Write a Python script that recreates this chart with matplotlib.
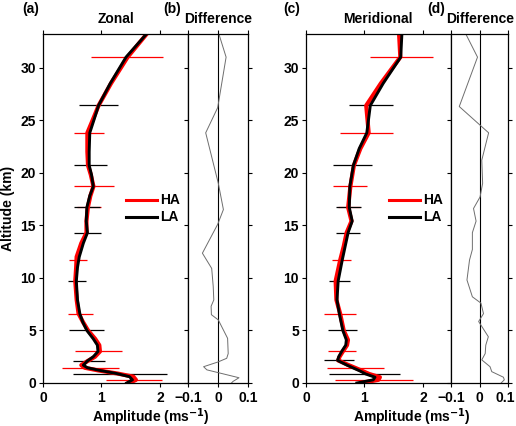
import numpy as np
import matplotlib.pyplot as plt
from matplotlib.transforms import ScaledTranslation

plt.rcParams['font.family'] = ['Liberation Sans', 'DejaVu Sans']
plt.rcParams['font.weight'] = 'bold'
plt.rcParams['font.size'] = 10
plt.rcParams['axes.linewidth'] = 0.9

# zonal amplitude profiles (km, m/s)
zon_alt = [0, 0.3, 0.6, 0.9, 1.2, 1.45, 1.7, 2.1, 2.5, 3.0, 3.6, 4.2, 5.0, 5.8, 6.6, 7.9,
           9.7, 11.0, 12.0, 13.3, 14.3, 15.4, 16.7, 17.8, 18.7, 19.8, 20.7, 22.0, 23.8,
           25.0, 26.4, 28.5, 31.0, 33.2]
zon_la = [1.43, 1.53, 1.48, 1.26, 0.97, 0.76, 0.69, 0.76, 0.86, 0.94, 0.93, 0.86, 0.75,
          0.68, 0.63, 0.59, 0.57, 0.59, 0.62, 0.69, 0.76, 0.74, 0.75, 0.80, 0.86, 0.83,
          0.79, 0.79, 0.80, 0.87, 0.95, 1.15, 1.42, 1.77]
zon_ha = [1.475, 1.59, 1.545, 1.275, 0.94, 0.715, 0.655, 0.766, 0.89, 0.974, 0.963, 0.892,
          0.77, 0.684, 0.608, 0.576, 0.552, 0.567, 0.575, 0.655, 0.744, 0.743, 0.767, 0.81,
          0.863, 0.818, 0.77, 0.759, 0.759, 0.849, 0.951, 1.163, 1.447, 1.773]

# zonal error bars
zon_ha_bar_alt = [31.0, 23.8, 18.7, 16.7, 11.7, 6.6, 3.0, 1.4, 0.28]
zon_ha_bar_mid = [1.44, 0.79, 0.875, 0.79, 0.60, 0.64, 0.95, 0.815, 1.555]
zon_ha_bar_err = [0.62, 0.26, 0.345, 0.21, 0.16, 0.22, 0.40, 0.485, 0.475]
zon_la_bar_alt = [26.4, 20.7, 16.7, 14.3, 9.7, 5.0, 2.1, 0.86]
zon_la_bar_mid = [0.95, 0.81, 0.75, 0.76, 0.58, 0.75, 0.785, 1.32]
zon_la_bar_err = [0.34, 0.28, 0.22, 0.23, 0.15, 0.30, 0.275, 0.80]

# zonal difference HA - LA
zon_diff_alt = [0.0, 0.15, 0.5, 0.85, 1.25, 1.55, 2.0, 2.35, 2.8, 4.25, 6.0, 6.5, 7.3, 7.9,
                9.2, 10.9, 12.35, 15.1, 16.5, 19.0, 23.8, 26.2, 31.0, 33.2]
zon_diff = [0.045, 0.05, 0.07, 0.02, -0.037, -0.048, 0.0, 0.029, 0.034, 0.032, 0.001,
            -0.022, -0.023, -0.014, -0.016, -0.021, -0.052, -0.001, 0.018, 0.001, -0.041,
            -0.001, 0.027, 0.003]

# meridional amplitude profiles
mer_alt = [0, 0.3, 0.55, 0.86, 1.15, 1.4, 1.7, 2.15, 2.5, 3.0, 3.6, 4.1, 5.0, 6.6, 7.9, 9.7,
           11.7, 13.0, 14.3, 15.4, 16.7, 18.7, 20.7, 22.3, 23.8, 26.4, 28.5, 31.0, 33.2]
mer_la = [0.87, 1.15, 1.18, 1.02, 0.92, 0.82, 0.70, 0.54, 0.56, 0.61, 0.68, 0.69, 0.63,
          0.57, 0.53, 0.55, 0.62, 0.67, 0.72, 0.79, 0.74, 0.75, 0.81, 0.91, 1.04, 1.10,
          1.32, 1.62, 1.64]
mer_ha = [0.946, 1.237, 1.264, 1.08, 0.963, 0.859, 0.73, 0.55, 0.574, 0.63, 0.702, 0.718,
          0.645, 0.584, 0.52, 0.507, 0.585, 0.645, 0.695, 0.778, 0.721, 0.759, 0.819, 0.93,
          1.072, 1.03, 1.28, 1.613, 1.592]

mer_ha_bar_alt = [31.0, 23.8, 18.7, 16.7, 11.7, 6.6, 3.0, 1.4, 0.28]
mer_ha_bar_mid = [1.635, 1.03, 0.76, 0.73, 0.605, 0.585, 0.62, 0.845, 1.165]
mer_ha_bar_err = [0.535, 0.45, 0.29, 0.19, 0.165, 0.275, 0.24, 0.485, 0.665]
mer_la_bar_alt = [26.4, 20.7, 16.7, 14.3, 9.7, 5.0, 2.15, 0.86]
mer_la_bar_mid = [1.11, 0.80, 0.73, 0.715, 0.57, 0.62, 0.565, 1.00]
mer_la_bar_err = [0.37, 0.33, 0.21, 0.205, 0.18, 0.25, 0.255, 0.61]

mer_diff_alt = [0.0, 0.3, 0.55, 1.08, 1.55, 2.2, 2.8, 3.6, 4.4, 5.85, 6.6, 7.6, 8.2, 9.8,
                11.7, 12.7, 14.3, 15.4, 16.6, 17.7, 19.0, 21.2, 23.8, 26.3, 31.0, 33.2]
mer_diff = [0.076, 0.087, 0.084, 0.043, 0.037, 0.008, 0.020, 0.022, 0.031, -0.003, 0.014,
            0.005, -0.025, -0.044, -0.035, -0.025, -0.025, -0.012, -0.021, 0.002, 0.011,
            0.008, 0.032, -0.071, -0.007, -0.048]

W, H = 516.0, 426.0
fig = plt.figure(figsize=(W / 100, H / 100), dpi=100)


def box(x0, x1):
    return [x0 / W, (H - 383) / H, (x1 - x0) / W, 349 / H]


ax_a = fig.add_axes(box(43, 188))
ax_b = fig.add_axes(box(188, 248))
ax_c = fig.add_axes(box(306, 451))
ax_d = fig.add_axes(box(451, 508))


def profile_panel(ax, alt, la, ha, hb_alt, hb_mid, hb_err, lb_alt, lb_mid, lb_err):
    ax.errorbar(hb_mid, hb_alt, xerr=hb_err, fmt='none', ecolor='red',
                elinewidth=0.9, capsize=0)
    ax.errorbar(lb_mid, lb_alt, xerr=lb_err, fmt='none', ecolor='black',
                elinewidth=0.9, capsize=0)
    ax.plot(ha, alt, color='red', lw=3.0)
    ax.plot(la, alt, color='black', lw=2.1)
    ax.set_xlim(0, 2.48)
    ax.set_ylim(0, 33.2)
    ax.set_xticks([0, 1, 2])
    ax.set_yticks(range(0, 31, 5))
    ax.tick_params(direction='out', length=3, width=0.8, top=True, right=False)
    ax.tick_params(axis='y', pad=2)
    ax.tick_params(axis='x', pad=3)
    # legend
    ax.plot([0.575, 0.785], [0.524, 0.524], color='red', lw=2.2, transform=ax.transAxes)
    ax.plot([0.575, 0.785], [0.476, 0.476], color='black', lw=2.2, transform=ax.transAxes)
    ax.text(0.81, 0.524, 'HA', transform=ax.transAxes, va='center', ha='left')
    ax.text(0.81, 0.476, 'LA', transform=ax.transAxes, va='center', ha='left')


def diff_panel(ax, alt, diff):
    ax.axvline(0, color='black', lw=0.8)
    ax.plot(diff, alt, color='#6e6e6e', lw=0.7)
    ax.set_xlim(-0.1, 0.1)
    ax.set_ylim(0, 33.2)
    ax.set_xticks([-0.1, 0, 0.1])
    ax.set_xticklabels(['\u22120.1', '0', '0.1'])
    ax.set_yticks(range(0, 31, 5))
    ax.tick_params(direction='out', length=3, width=0.8, top=True, right=True,
                   labelleft=False)
    ax.tick_params(axis='x', pad=3)


profile_panel(ax_a, zon_alt, zon_la, zon_ha, zon_ha_bar_alt, zon_ha_bar_mid, zon_ha_bar_err,
              zon_la_bar_alt, zon_la_bar_mid, zon_la_bar_err)
diff_panel(ax_b, zon_diff_alt, zon_diff)
profile_panel(ax_c, mer_alt, mer_la, mer_ha, mer_ha_bar_alt, mer_ha_bar_mid, mer_ha_bar_err,
              mer_la_bar_alt, mer_la_bar_mid, mer_la_bar_err)
diff_panel(ax_d, mer_diff_alt, mer_diff)

# keep the last tick label inside the figure edge
last = ax_d.get_xticklabels()[-1]
last.set_transform(last.get_transform() + ScaledTranslation(-3 / 100, 0, fig.dpi_scale_trans))

# titles and panel letters
for x, s in [(22, '(a)'), (163, '(b)'), (283, '(c)'), (427, '(d)')]:
    fig.text(x / W, 1 - 2 / H, s, ha='left', va='top')
for x, s in [(115.5, 'Zonal'), (218, 'Difference'), (378, 'Meridional'), (480, 'Difference')]:
    fig.text(x / W, 1 - 19 / H, s, ha='center', va='center')

fig.text(151 / W, 4.5 / H, 'Amplitude (ms$^{\\mathbf{-1}}$)', ha='center', va='baseline')
fig.text(412 / W, 4.5 / H, 'Amplitude (ms$^{\\mathbf{-1}}$)', ha='center', va='baseline')
fig.text(8 / W, 1 - 208 / H, 'Altitude (km)', rotation=90, ha='center', va='center')

fig.savefig('out.png', dpi=100)
